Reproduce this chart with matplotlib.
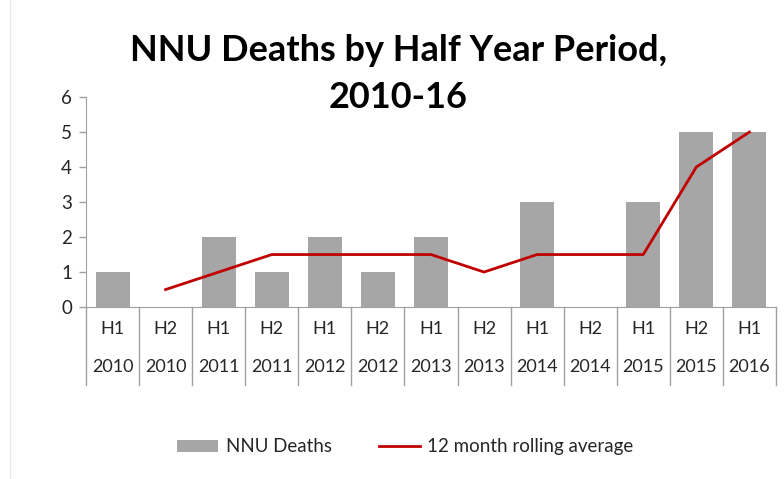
import numpy as np
import matplotlib.pyplot as plt
from matplotlib.patches import Rectangle

halves = ["H1", "H2", "H1", "H2", "H1", "H2", "H1", "H2", "H1", "H2", "H1", "H2", "H1"]
years = ["2010", "2010", "2011", "2011", "2012", "2012", "2013", "2013",
         "2014", "2014", "2015", "2015", "2016"]
deaths = [1, 0, 2, 1, 2, 1, 2, 0, 3, 0, 3, 5, 5]
rolling = [np.nan, 0.5, 1, 1.5, 1.5, 1.5, 1.5, 1, 1.5, 1.5, 1.5, 4, 5]

plt.rcParams['font.family'] = ['Lato', 'DejaVu Sans']
txt = '#262626'

fig = plt.figure(figsize=(7.84, 4.79), dpi=100)
ax = fig.add_axes([0.1097, 0.359, 0.880, 0.4384])

x = np.arange(len(deaths))
bars = ax.bar(x, deaths, width=0.64, color='#a6a6a6', label='NNU Deaths')
line, = ax.plot(x, rolling, color='#c00000', lw=2, label='12 month rolling average')

ax.set_xlim(-0.5, len(deaths) - 0.5)
ax.set_ylim(0, 6)
ax.set_yticks(range(7))
ax.tick_params(axis='y', labelsize=13.5, labelcolor=txt, length=5, width=1, pad=5,
               color='#a0a0a0')
ax.set_xticks([])
for s in ['top', 'right']:
    ax.spines[s].set_visible(False)
for s in ['left', 'bottom']:
    ax.spines[s].set_color('#a0a0a0')

# two level category table under the axis
tr = ax.get_xaxis_transform()
for b in np.arange(-0.5, len(deaths), 1.0):
    ax.plot([b, b], [0, -0.371], transform=tr, color='#a0a0a0', lw=1, clip_on=False)
for i in x:
    ax.text(i, -0.105, halves[i], transform=tr, ha='center', va='center',
            fontsize=13, color=txt)
    ax.text(i, -0.286, years[i], transform=tr, ha='center', va='center',
            fontsize=13, color=txt)

fig.text(0.508, 0.846, "NNU Deaths by Half Year Period,\n2010-16", ha='center', va='center',
         fontsize=26, fontweight='bold', linespacing=1.5, color='black')

fig.legend([bars, line], ['NNU Deaths', '12 month rolling average'],
           loc='center', bbox_to_anchor=(0.517, 0.067), ncol=2, frameon=False,
           fontsize=13.5, handlelength=2.2, handleheight=0.6, handletextpad=0.4,
           columnspacing=2.5, labelcolor=txt)

fig.patches.append(Rectangle((0.013, -0.1), 1.1, 1.2, transform=fig.transFigure,
                             fill=False, edgecolor='#e8e8e8', lw=1))

fig.savefig('out.png', dpi=100)
